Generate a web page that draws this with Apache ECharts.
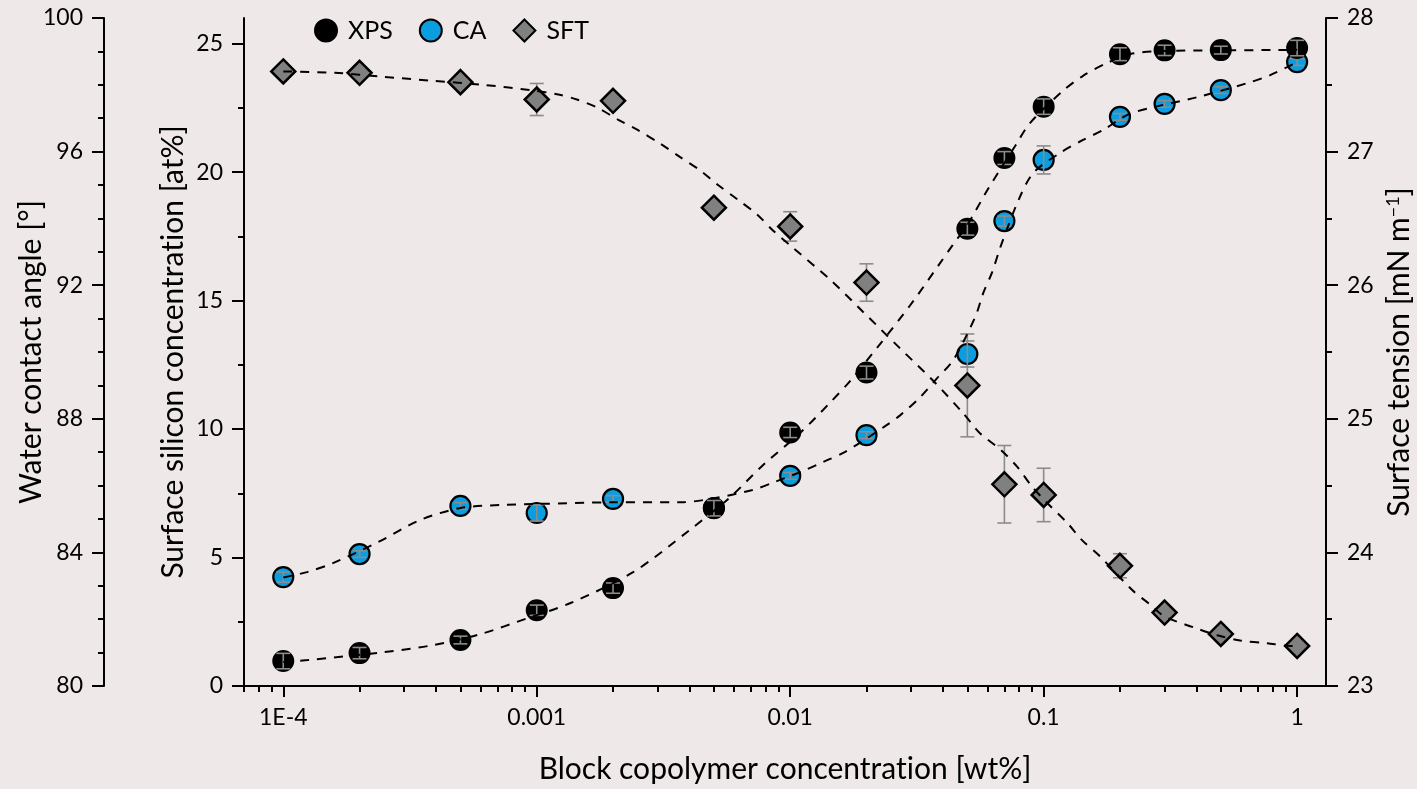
<!DOCTYPE html>
<html>
<head>
<meta charset="utf-8">
<title>Block copolymer surface segregation</title>
<script src="https://cdn.jsdelivr.net/npm/echarts@6/dist/echarts.min.js"></script>
<style>
  html, body { margin: 0; padding: 0; background: #eee8e8; }
  #chart { width: 1417px; height: 789px; }
</style>
</head>
<body>
<div id="chart"></div>
<script>
// Block copolymer concentration [wt%]
const conc = [1e-4, 2e-4, 5e-4, 0.001, 0.002, 0.005, 0.01, 0.02, 0.05, 0.07, 0.1, 0.2, 0.3, 0.5, 1];

// XPS surface silicon concentration [at%]
const xps    = [0.97, 1.28, 1.79, 2.95, 3.81, 6.92, 9.87, 12.2, 17.8, 20.55, 22.55, 24.59, 24.74, 24.75, 24.83];
const xpsErr = [0.3, 0.22, 0.15, 0.2, 0.2, 0.3, 0.2, 0.25, 0.25, 0.25, 0.3, 0.25, 0.2, 0.15, 0.3];

// Water contact angle [°]
const ca    = [83.26, 83.95, 85.39, 85.18, 85.6, 85.33, 86.29, 87.51, 89.94, 93.92, 95.75, 97.04, 97.43, 97.84, 98.68];
const caErr = [0.15, 0.1, 0.1, 0.24, 0.1, 0.1, 0.1, 0.1, 0.39, 0.15, 0.42, 0.1, 0.1, 0.1, 0.1];

// Surface tension [mN m-1]
const sft    = [27.6, 27.59, 27.52, 27.39, 27.38, 26.58, 26.44, 26.02, 25.25, 24.51, 24.43, 23.9, 23.55, 23.39, 23.3];
const sftErr = [0.02, 0.02, 0.02, 0.12, 0.03, 0.03, 0.11, 0.14, 0.385, 0.29, 0.2, 0.09, 0.03, 0.03, 0.03];

// Fitted curves, [concentration, value]
const xpsFit = [
  [1e-4, 0.93], [1.25e-4, 1.01], [2.5e-4, 1.32], [3.9e-4, 1.59], [6e-4, 2.02], [9.2e-4, 2.64],
  [1.36e-3, 3.23], [2.4e-3, 4.43], [4.0e-3, 6.06], [5.8e-3, 7.35], [7.8e-3, 8.59], [0.011, 9.87],
  [0.0144, 11.04], [0.0173, 11.89], [0.0227, 13.33], [0.0297, 14.81], [0.0384, 16.36], [0.0436, 17.14],
  [0.05, 17.95], [0.0604, 19.35], [0.0773, 21.03], [0.0885, 21.92], [0.119, 23.16], [0.143, 23.75],
  [0.178, 24.25], [0.22, 24.6], [0.3, 24.72], [0.5, 24.74], [1, 24.76]
];
const caFit = [
  [1e-4, 83.25], [1.24e-4, 83.41], [1.57e-4, 83.68], [2.37e-4, 84.31], [3.47e-4, 84.97], [5e-4, 85.33],
  [7.2e-4, 85.42], [1e-3, 85.45], [2e-3, 85.5], [3.7e-3, 85.5], [5e-3, 85.62], [7.1e-3, 85.87],
  [8.7e-3, 86.11], [0.0115, 86.47], [0.0135, 86.71], [0.0164, 87.0], [0.0237, 87.78], [0.0272, 88.11],
  [0.0326, 88.65], [0.038, 89.22], [0.044, 89.76], [0.0537, 91.05], [0.0578, 91.77], [0.0627, 92.4],
  [0.0675, 93.14], [0.0796, 94.55], [0.091, 95.36], [0.116, 95.96], [0.143, 96.35], [0.172, 96.65],
  [0.214, 97.1], [0.264, 97.31], [0.404, 97.63], [0.635, 98.05], [0.783, 98.29], [1, 98.68]
];
const sftFit = [
  [1e-4, 27.6], [1.6e-4, 27.59], [2.48e-4, 27.56], [3.9e-4, 27.53], [6.14e-4, 27.5], [9.42e-4, 27.46],
  [1.2e-3, 27.43], [1.44e-3, 27.39], [1.73e-3, 27.33], [2.09e-3, 27.24], [2.51e-3, 27.16], [3.07e-3, 27.06],
  [3.67e-3, 26.96], [4.41e-3, 26.86], [5.19e-3, 26.75], [6.22e-3, 26.64], [7.4e-3, 26.53], [8.55e-3, 26.41],
  [0.01026, 26.28], [0.0144, 26.04], [0.0194, 25.8], [0.0267, 25.54], [0.0373, 25.27], [0.0482, 25.04],
  [0.0562, 24.89], [0.0675, 24.77], [0.0787, 24.64], [0.0902, 24.49], [0.1033, 24.37], [0.124, 24.22],
  [0.142, 24.09], [0.167, 23.97], [0.223, 23.72], [0.263, 23.61], [0.3, 23.52], [0.389, 23.44],
  [0.484, 23.38], [0.597, 23.34], [0.762, 23.32], [0.94, 23.3], [1, 23.3]
];

// Axis ticks and labels
const xMajorTicks  = [1e-4, 0.001, 0.01, 0.1, 1];
const xMajorLabels = ['1E-4', '0.001', '0.01', '0.1', '1'];
const xMinorTicks  = [7e-5, 8e-5, 9e-5];
[1e-4, 1e-3, 1e-2, 1e-1].forEach(d => { for (let m = 2; m <= 9; m++) xMinorTicks.push(m * d); });
const siTicks       = [0, 5, 10, 15, 20, 25];
const siMinor       = [2.5, 7.5, 12.5, 17.5, 22.5];
const angleTicks    = [80, 84, 88, 92, 96, 100];
const angleMinor    = [81, 82, 83, 85, 86, 87, 89, 90, 91, 93, 94, 95, 97, 98, 99];
const tensionTicks  = [23, 24, 25, 26, 27, 28];
const tensionMinor  = [23.5, 24.5, 25.5, 26.5, 27.5];

const X_MIN = 7e-5, X_MAX = 1.3;
const lg = v => Math.log10(v);

const FONT = 'Lato';
const BLACK = '#000';
const NAME_SIZE = 30;
// zero-width non-joiner keeps the "t" and "i" glyphs separate (no ligature)
const ZWNJ = '\u200C';
const axisLine = { show: true, onZero: false, lineStyle: { color: BLACK, width: 2 } };
const tickStyle = { color: BLACK, width: 2 };

function majorY(min, max, ticks, opts) {
  return Object.assign({
    type: 'value', min, max,
    axisLine,
    axisTick: { show: true, inside: false, length: 12, lineStyle: tickStyle, customValues: ticks },
    axisLabel: { customValues: ticks, margin: 21, fontSize: 23, fontFamily: FONT, color: BLACK },
    splitLine: { show: false },
    nameLocation: 'middle', nameRotate: 90, nameMoveOverlap: false,
    nameTextStyle: { fontSize: NAME_SIZE, fontFamily: FONT, color: BLACK }
  }, opts);
}
function minorY(min, max, ticks, opts) {
  return Object.assign({
    type: 'value', min, max,
    axisLine: { show: false, onZero: false },
    axisTick: { show: true, inside: false, length: 6, lineStyle: tickStyle, customValues: ticks },
    axisLabel: { show: false },
    splitLine: { show: false }
  }, opts);
}

function errorBars(name, yAxisIndex, vals, errs, z) {
  return {
    type: 'custom', name, xAxisIndex: 0, yAxisIndex, z, silent: true,
    data: conc.map((c, i) => [lg(c), vals[i], errs[i]]),
    renderItem(params, api) {
      const x = api.value(0), y = api.value(1), e = api.value(2);
      const top = api.coord([x, y + e]);
      const bot = api.coord([x, y - e]);
      const w = 7;
      const style = { stroke: '#8c8c8c', lineWidth: 1.6, fill: null };
      return {
        type: 'group',
        children: [
          { type: 'line', shape: { x1: top[0], y1: top[1], x2: bot[0], y2: bot[1] }, style },
          { type: 'line', shape: { x1: top[0] - w, y1: top[1], x2: top[0] + w, y2: top[1] }, style },
          { type: 'line', shape: { x1: bot[0] - w, y1: bot[1], x2: bot[0] + w, y2: bot[1] }, style }
        ]
      };
    }
  };
}

function fitLine(name, yAxisIndex, pts) {
  return {
    type: 'line', name, xAxisIndex: 0, yAxisIndex, z: 8, silent: true,
    data: pts.map(p => [lg(p[0]), p[1]]),
    showSymbol: false, symbol: 'none', smooth: 0.3,
    lineStyle: { color: BLACK, width: 2, type: [9, 8] }
  };
}

const chart = echarts.init(document.getElementById('chart'), null, { renderer: 'canvas' });

chart.setOption({
  backgroundColor: '#eee8e8',
  animation: false,
  textStyle: { fontFamily: FONT },
  grid: { left: 244, right: 91, top: 18, bottom: 103, containLabel: false, outerBoundsMode: 'none' },
  legend: {
    data: ['XPS', 'CA', 'SFT'],
    left: 309, top: 13,
    itemWidth: 22, itemHeight: 22, itemGap: 26,
    textStyle: { fontSize: 25, fontFamily: FONT, color: BLACK, padding: [0, 0, 0, 6] }
  },
  xAxis: [
    {
      type: 'value', min: lg(X_MIN), max: lg(X_MAX),
      axisLine,
      axisTick: { show: true, inside: false, length: 11, lineStyle: tickStyle, customValues: xMajorTicks.map(lg) },
      axisLabel: {
        customValues: xMajorTicks.map(lg), margin: 20, fontSize: 23, fontFamily: FONT, color: BLACK,
        formatter: v => {
          const i = xMajorTicks.findIndex(t => Math.abs(lg(t) - v) < 1e-6);
          return i >= 0 ? xMajorLabels[i] : '';
        }
      },
      splitLine: { show: false },
      name: 'Block copolymer concentrat' + ZWNJ + 'ion [wt%]',
      nameLocation: 'middle', nameGap: 68, nameMoveOverlap: false,
      nameTextStyle: { fontSize: NAME_SIZE, fontFamily: FONT, color: BLACK }
    },
    {
      type: 'value', min: lg(X_MIN), max: lg(X_MAX), position: 'bottom',
      axisLine: { show: false, onZero: false },
      axisTick: { show: true, inside: false, length: 6, lineStyle: tickStyle, customValues: xMinorTicks.map(lg) },
      axisLabel: { show: false },
      splitLine: { show: false }
    }
  ],
  yAxis: [
    majorY(0, 26, siTicks, {
      position: 'left', offset: 0,
      name: 'Surface silicon concentrat' + ZWNJ + 'ion [at%]', nameGap: 56
    }),
    minorY(0, 26, siMinor, { position: 'left', offset: 0 }),
    majorY(80, 100, angleTicks, { position: 'left', offset: 140, name: 'Water contact angle [°]', nameGap: 58 }),
    minorY(80, 100, angleMinor, { position: 'left', offset: 140 }),
    majorY(23, 28, tensionTicks, {
      position: 'right', offset: 0, name: 'Surface tension [mN m{sup|−1}]', nameGap: 58,
      nameTextStyle: {
        fontSize: NAME_SIZE, fontFamily: FONT, color: BLACK,
        rich: { sup: { fontSize: 18, fontFamily: FONT, color: BLACK, verticalAlign: 'top', lineHeight: 30 } }
      }
    }),
    minorY(23, 28, tensionMinor, { position: 'right', offset: 0 })
  ],
  series: [
    errorBars('SFT error', 4, sft, sftErr, 2),
    {
      type: 'scatter', name: 'SFT', xAxisIndex: 0, yAxisIndex: 4, z: 3,
      data: conc.map((c, i) => [lg(c), sft[i]]),
      symbol: 'diamond', symbolSize: 24,
      itemStyle: { color: '#808080', borderColor: BLACK, borderWidth: 2.5, opacity: 1 }
    },
    {
      type: 'scatter', name: 'CA', xAxisIndex: 0, yAxisIndex: 2, z: 4,
      data: conc.map((c, i) => [lg(c), ca[i]]),
      symbol: 'circle', symbolSize: 20,
      itemStyle: { color: '#0a9de0', borderColor: BLACK, borderWidth: 2.2, opacity: 1 }
    },
    errorBars('CA error', 2, ca, caErr, 5),
    {
      type: 'scatter', name: 'XPS', xAxisIndex: 0, yAxisIndex: 0, z: 6,
      data: conc.map((c, i) => [lg(c), xps[i]]),
      symbol: 'circle', symbolSize: 20,
      itemStyle: { color: BLACK, borderColor: BLACK, borderWidth: 2, opacity: 1 }
    },
    errorBars('XPS error', 0, xps, xpsErr, 7),
    fitLine('CA fit', 2, caFit),
    fitLine('XPS fit', 0, xpsFit),
    fitLine('SFT fit', 4, sftFit)
  ]
});
</script>
</body>
</html>
